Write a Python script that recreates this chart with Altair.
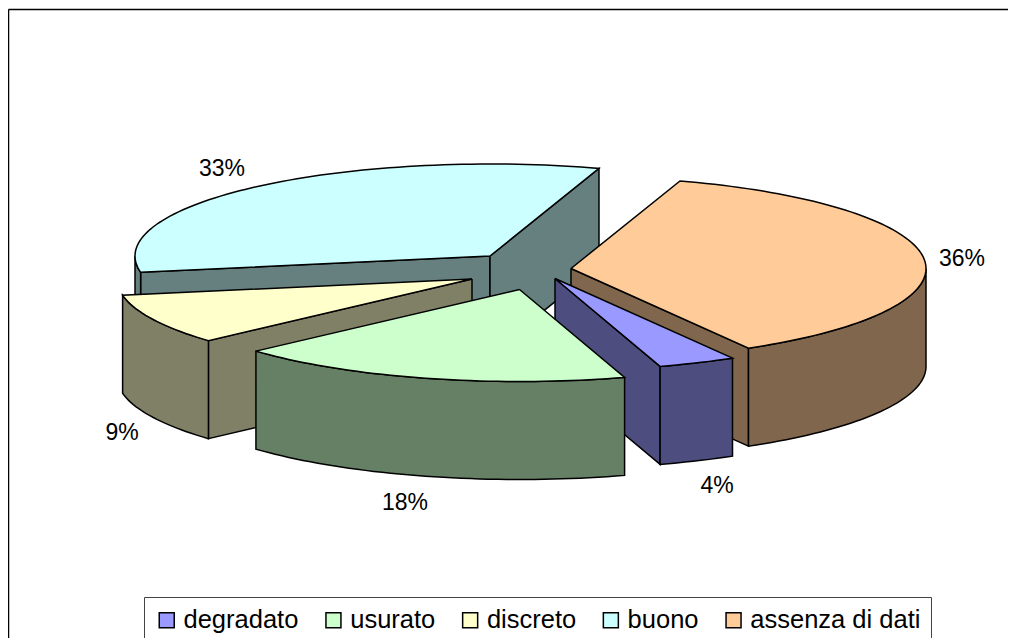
import math
import altair as alt
import pandas as pd

# Data
categories = ["degradato", "usurato", "discreto", "buono", "assenza di dati"]
shares = [3.55, 18.1, 8.85, 32.8, 36.7]
pct_labels = ["4%", "18%", "9%", "33%", "36%"]
top_colors = ["#9999FF", "#CCFFCC", "#FFFFCC", "#CCFFFF", "#FFCC99"]
side_colors = ["#4D4D80", "#668066", "#808066", "#668080", "#80664D"]

# 3D-pie projection (picture coordinates)
START_ANGLE = 150.0
RX, RY, DEPTH = 355.0, 92.0, 98.0
apex_x = [555, 519.5, 472, 490, 571]
apex_y = [278.5, 289.5, 279, 256, 268.5]
label_x = [717, 405, 122, 222, 962]
label_y = [484, 501, 431, 167, 257]
paint_order = [3, 4, 0, 2, 1]


def arc(i, a0, a1, dz=0.0):
    n = max(2, int(abs(a1 - a0) / 1.5) + 2)
    pts = []
    for k in range(n):
        t = math.radians(a0 + (a1 - a0) * k / (n - 1))
        pts.append((apex_x[i] + RX * math.sin(t), apex_y[i] - RY * math.cos(t) + dz))
    return pts


bounds = []
a = START_ANGLE
for s in shares:
    lo_a = a if a < 360 else a - 360
    bounds.append((lo_a, lo_a + s * 3.6))
    a = lo_a + s * 3.6

rows = []
poly_id = 0


def add_poly(pts, key):
    global poly_id
    closed = list(pts) + [pts[0]]
    for n, (x, y) in enumerate(closed):
        rows.append({"poly": poly_id, "n": n, "x": x, "y": y, "key": key})
    poly_id += 1


for i in paint_order:
    a0, a1 = bounds[i]
    side_key = categories[i] + " (lato)"
    apex = (apex_x[i], apex_y[i])
    apex_low = (apex_x[i], apex_y[i] + DEPTH)
    if math.sin(math.radians(a0)) < 0:
        p = arc(i, a0, a0)[0]
        add_poly([apex, p, (p[0], p[1] + DEPTH), apex_low], side_key)
    if math.sin(math.radians(a1)) > 0:
        p = arc(i, a1, a1)[0]
        add_poly([apex, p, (p[0], p[1] + DEPTH), apex_low], side_key)
    lo, hi = max(a0, 90.0), min(a1, 270.0)
    if hi > lo:
        add_poly(arc(i, lo, hi) + arc(i, hi, lo, DEPTH), side_key)
    add_poly([apex] + arc(i, a0, a1), categories[i])

df = pd.DataFrame(rows)
labels = pd.DataFrame({"x": label_x, "y": label_y, "t": pct_labels})

W, H = 1000, 629
xs = alt.Scale(domain=[8, 8 + W], nice=False, zero=False)
ys = alt.Scale(domain=[9 + H, 9], nice=False, zero=False)
frame_x = alt.Axis(orient="top", domain=True, domainColor="black", domainWidth=1.5,
                   ticks=False, labels=False, grid=False, title=None)
frame_y = alt.Axis(orient="left", domain=True, domainColor="black", domainWidth=1.5,
                   ticks=False, labels=False, grid=False, title=None)

faces = alt.Chart(df).mark_line(stroke="black", strokeWidth=1.5, strokeJoin="miter").encode(
    x=alt.X("x:Q", scale=xs, axis=frame_x),
    y=alt.Y("y:Q", scale=ys, axis=frame_y),
    order="n:Q",
    detail="poly:N",
    fill=alt.Fill(
        "key:N",
        scale=alt.Scale(
            domain=categories + [c + " (lato)" for c in categories],
            range=top_colors + side_colors,
        ),
        legend=alt.Legend(
            values=categories,
            title=None,
            orient="none",
            legendX=136,
            legendY=588,
            direction="horizontal",
            columns=5,
            symbolType="square",
            symbolSize=225,
            symbolStrokeColor="black",
            symbolStrokeWidth=1.5,
            labelFont="Liberation Sans",
            labelFontSize=25.5,
            labelColor="black",
            labelOffset=4,
            columnPadding=21.7,
            padding=10,
            strokeColor="#444444",
            fillColor="white",
            labelLimit=400,
        ),
    ),
)

text = alt.Chart(labels).mark_text(
    font="Liberation Sans", fontSize=23, color="black", dy=1.5
).encode(
    x=alt.X("x:Q", scale=xs, axis=frame_x),
    y=alt.Y("y:Q", scale=ys, axis=frame_y),
    text="t:N",
)

chart = (
    alt.layer(faces, text)
    .properties(
        width=W,
        height=H,
        padding={"left": 0, "top": 1, "right": 0, "bottom": 0},
        autosize=alt.AutoSizeParams(type="none"),
        background="white",
    )
    .configure_view(stroke="transparent")
)

chart.save("out.html", embed_options={"renderer": "svg", "actions": False})
